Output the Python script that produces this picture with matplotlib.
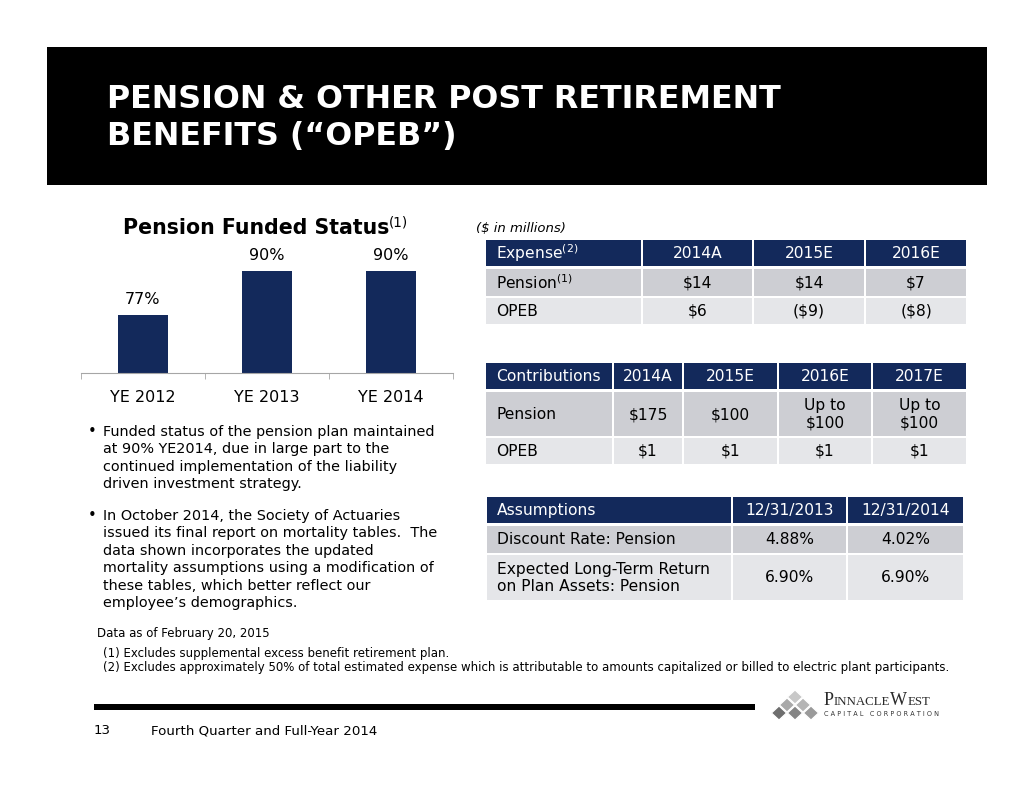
import matplotlib
matplotlib.use("Agg")
import matplotlib.pyplot as plt
import matplotlib.patches as patches

# ---- data ----
years = ["YE 2012", "YE 2013", "YE 2014"]
funded_pct = [77, 90, 90]

expense_header = ["Expense$^{(2)}$", "2014A", "2015E", "2016E"]
expense_rows = [["Pension$^{(1)}$", "$14", "$14", "$7"],
                ["OPEB", "$6", "($9)", "($8)"]]

contrib_header = ["Contributions", "2014A", "2015E", "2016E", "2017E"]
contrib_rows = [["Pension", "$175", "$100", "Up to\n$100", "Up to\n$100"],
                ["OPEB", "$1", "$1", "$1", "$1"]]

assume_header = ["Assumptions", "12/31/2013", "12/31/2014"]
assume_rows = [["Discount Rate: Pension", "4.88%", "4.02%"],
               ["Expected Long-Term Return\non Plan Assets: Pension", "6.90%", "6.90%"]]

bullet1 = ["Funded status of the pension plan maintained",
           "at 90% YE2014, due in large part to the",
           "continued implementation of the liability",
           "driven investment strategy."]
bullet2 = ["In October 2014, the Society of Actuaries",
           "issued its final report on mortality tables.  The",
           "data shown incorporates the updated",
           "mortality assumptions using a modification of",
           "these tables, which better reflect our",
           "employee\u2019s demographics."]

notes = ["(1) Excludes supplemental excess benefit retirement plan.",
         "(2) Excludes approximately 50% of total estimated expense which is attributable "
         "to amounts capitalized or billed to electric plant participants."]

NAVY = "#13295b"
DARK = "#cdced3"
LIGHT = "#e5e6e9"
W, H = 1034, 799

plt.rcParams['font.family'] = 'DejaVu Sans'
plt.rcParams['mathtext.fontset'] = 'dejavusans'

fig = plt.figure(figsize=(W / 100, H / 100), dpi=100)
fig.patch.set_facecolor("white")
renderer = fig.canvas.get_renderer()

# slide canvas in pixel coordinates
bg = fig.add_axes([0, 0, 1, 1])
bg.set_xlim(0, W)
bg.set_ylim(H, 0)
bg.axis("off")


def run_text(x, y, pieces, **kw):
    # pieces: (text, size, dy, extra kwargs); placed one after another
    for txt, size, dy, extra in pieces:
        t = bg.text(x, y + dy, txt, fontsize=size, ha="left", va="baseline", **kw, **extra)
        bb = t.get_window_extent(renderer=renderer)
        x += bb.width  # 1 px == 1 data unit here
    return x


# header band
bg.add_patch(patches.Rectangle((47, 47), 940, 138, facecolor="black", edgecolor="none"))
bg.text(107, 100, "PENSION & OTHER POST RETIREMENT", color="white", fontsize=22.9,
        fontweight="bold", va="center", ha="left")
bg.text(107, 136, "BENEFITS (\u201cOPEB\u201d)", color="white", fontsize=22.9,
        fontweight="bold", va="center", ha="left")

# chart title
run_text(123, 234, [("Pension Funded Status", 14.8, 0, {"fontweight": "bold"}),
                    ("(1)", 9.8, -7, {})])

# bar chart
ax = fig.add_axes([81 / W, (H - 373) / H, 372 / W, 136 / H])
x = list(range(len(years)))
ax.bar(x, funded_pct, width=0.4, color=NAVY)
ax.set_ylim(60, 100)
ax.set_xlim(-0.5, 2.5)
for xi, v in zip(x, funded_pct):
    ax.text(xi, v + 2.5, f"{v}%", ha="center", va="bottom", fontsize=11.5)
ax.set_xticks(x)
ax.set_xticklabels(years, fontsize=11.5)
ax.tick_params(axis="x", which="major", length=0, pad=12)
ax.set_xticks([-0.5, 0.5, 1.5, 2.5], minor=True)
ax.tick_params(axis="x", which="minor", length=4, color="#a6a6a6", direction="out")
ax.set_yticks([])
for s in ["top", "left", "right"]:
    ax.spines[s].set_visible(False)
ax.spines["bottom"].set_color("#a6a6a6")
ax.patch.set_alpha(0)


# bullets
def bullet(lines, y0):
    bg.text(88, y0, "\u2022", fontsize=10.5, va="center", ha="left")
    for i, ln in enumerate(lines):
        bg.text(103, y0 + i * 17.4, ln, fontsize=10.4, va="center", ha="left")


bullet(bullet1, 432)
bullet(bullet2, 516)

# tables
bg.text(476, 228, "($ in millions)", fontsize=9.5, style="italic", va="center")


def table(header, rows, cols, ys):
    allrows = [header] + rows
    fills = [NAVY, DARK, LIGHT]
    for r, (row, (y0, y1)) in enumerate(zip(allrows, ys)):
        for c, (txt, (x0, x1)) in enumerate(zip(row, cols)):
            bg.add_patch(patches.Rectangle((x0, y0), x1 - x0, y1 - y0,
                                           facecolor=fills[r], edgecolor="none"))
            color = "white" if r == 0 else "black"
            if c == 0:
                bg.text(x0 + 10, (y0 + y1) / 2 + 0.5, txt, color=color, fontsize=11.2,
                        ha="left", va="center", linespacing=1.2)
            else:
                bg.text((x0 + x1) / 2, (y0 + y1) / 2 + 0.5, txt, color=color,
                        fontsize=11.2, ha="center", va="center", linespacing=1.2,
                        multialignment="center")


table(expense_header, expense_rows,
      [(486, 641), (643, 752), (754, 864), (866, 966)],
      [(240, 266), (269, 296), (298, 324)])
table(contrib_header, contrib_rows,
      [(486, 612), (614, 682), (684, 777), (779, 871), (873, 966)],
      [(363, 389), (392, 436), (438, 464)])
table(assume_header, assume_rows,
      [(487, 731), (733, 846), (848, 963)],
      [(497, 523), (526, 553), (555, 600)])

# footnotes
bg.text(97, 634, "Data as of February 20, 2015", fontsize=8.5, va="center")
bg.text(103, 654, notes[0], fontsize=8.5, va="center")
bg.text(103, 668, notes[1], fontsize=8.5, va="center")

# footer
bg.add_patch(patches.Rectangle((94, 704), 661, 6, facecolor="black", edgecolor="none"))
bg.text(94, 731, "13", fontsize=9.6, va="center")
bg.text(151, 731, "Fourth Quarter and Full-Year 2014", fontsize=9.6, va="center")

# logo
diamonds = [(795, 697, "#c8c8c8"), (787, 705, "#a9a9a9"), (803, 705, "#b5b5b5"),
            (779, 713, "#6e6e6e"), (795, 713, "#858585"), (811, 713, "#9a9a9a")]
for cx, cy, col in diamonds:
    bg.add_patch(patches.Polygon([(cx, cy - 7), (cx + 7.5, cy), (cx, cy + 7), (cx - 7.5, cy)],
                                 closed=True, facecolor=col, edgecolor="white", lw=0.8))
serif = {"family": "Liberation Serif", "color": "#2a2a2a"}
run_text(824, 705, [("P", 13, 0, serif), ("INNACLE", 9.3, 0, serif),
                    ("W", 13, 0, serif), ("EST", 9.3, 0, serif)])
bg.text(824, 714, "C A P I T A L   C O R P O R A T I O N", fontsize=4.7,
        va="center", color="#333333")

fig.savefig("out.png", dpi=100)
